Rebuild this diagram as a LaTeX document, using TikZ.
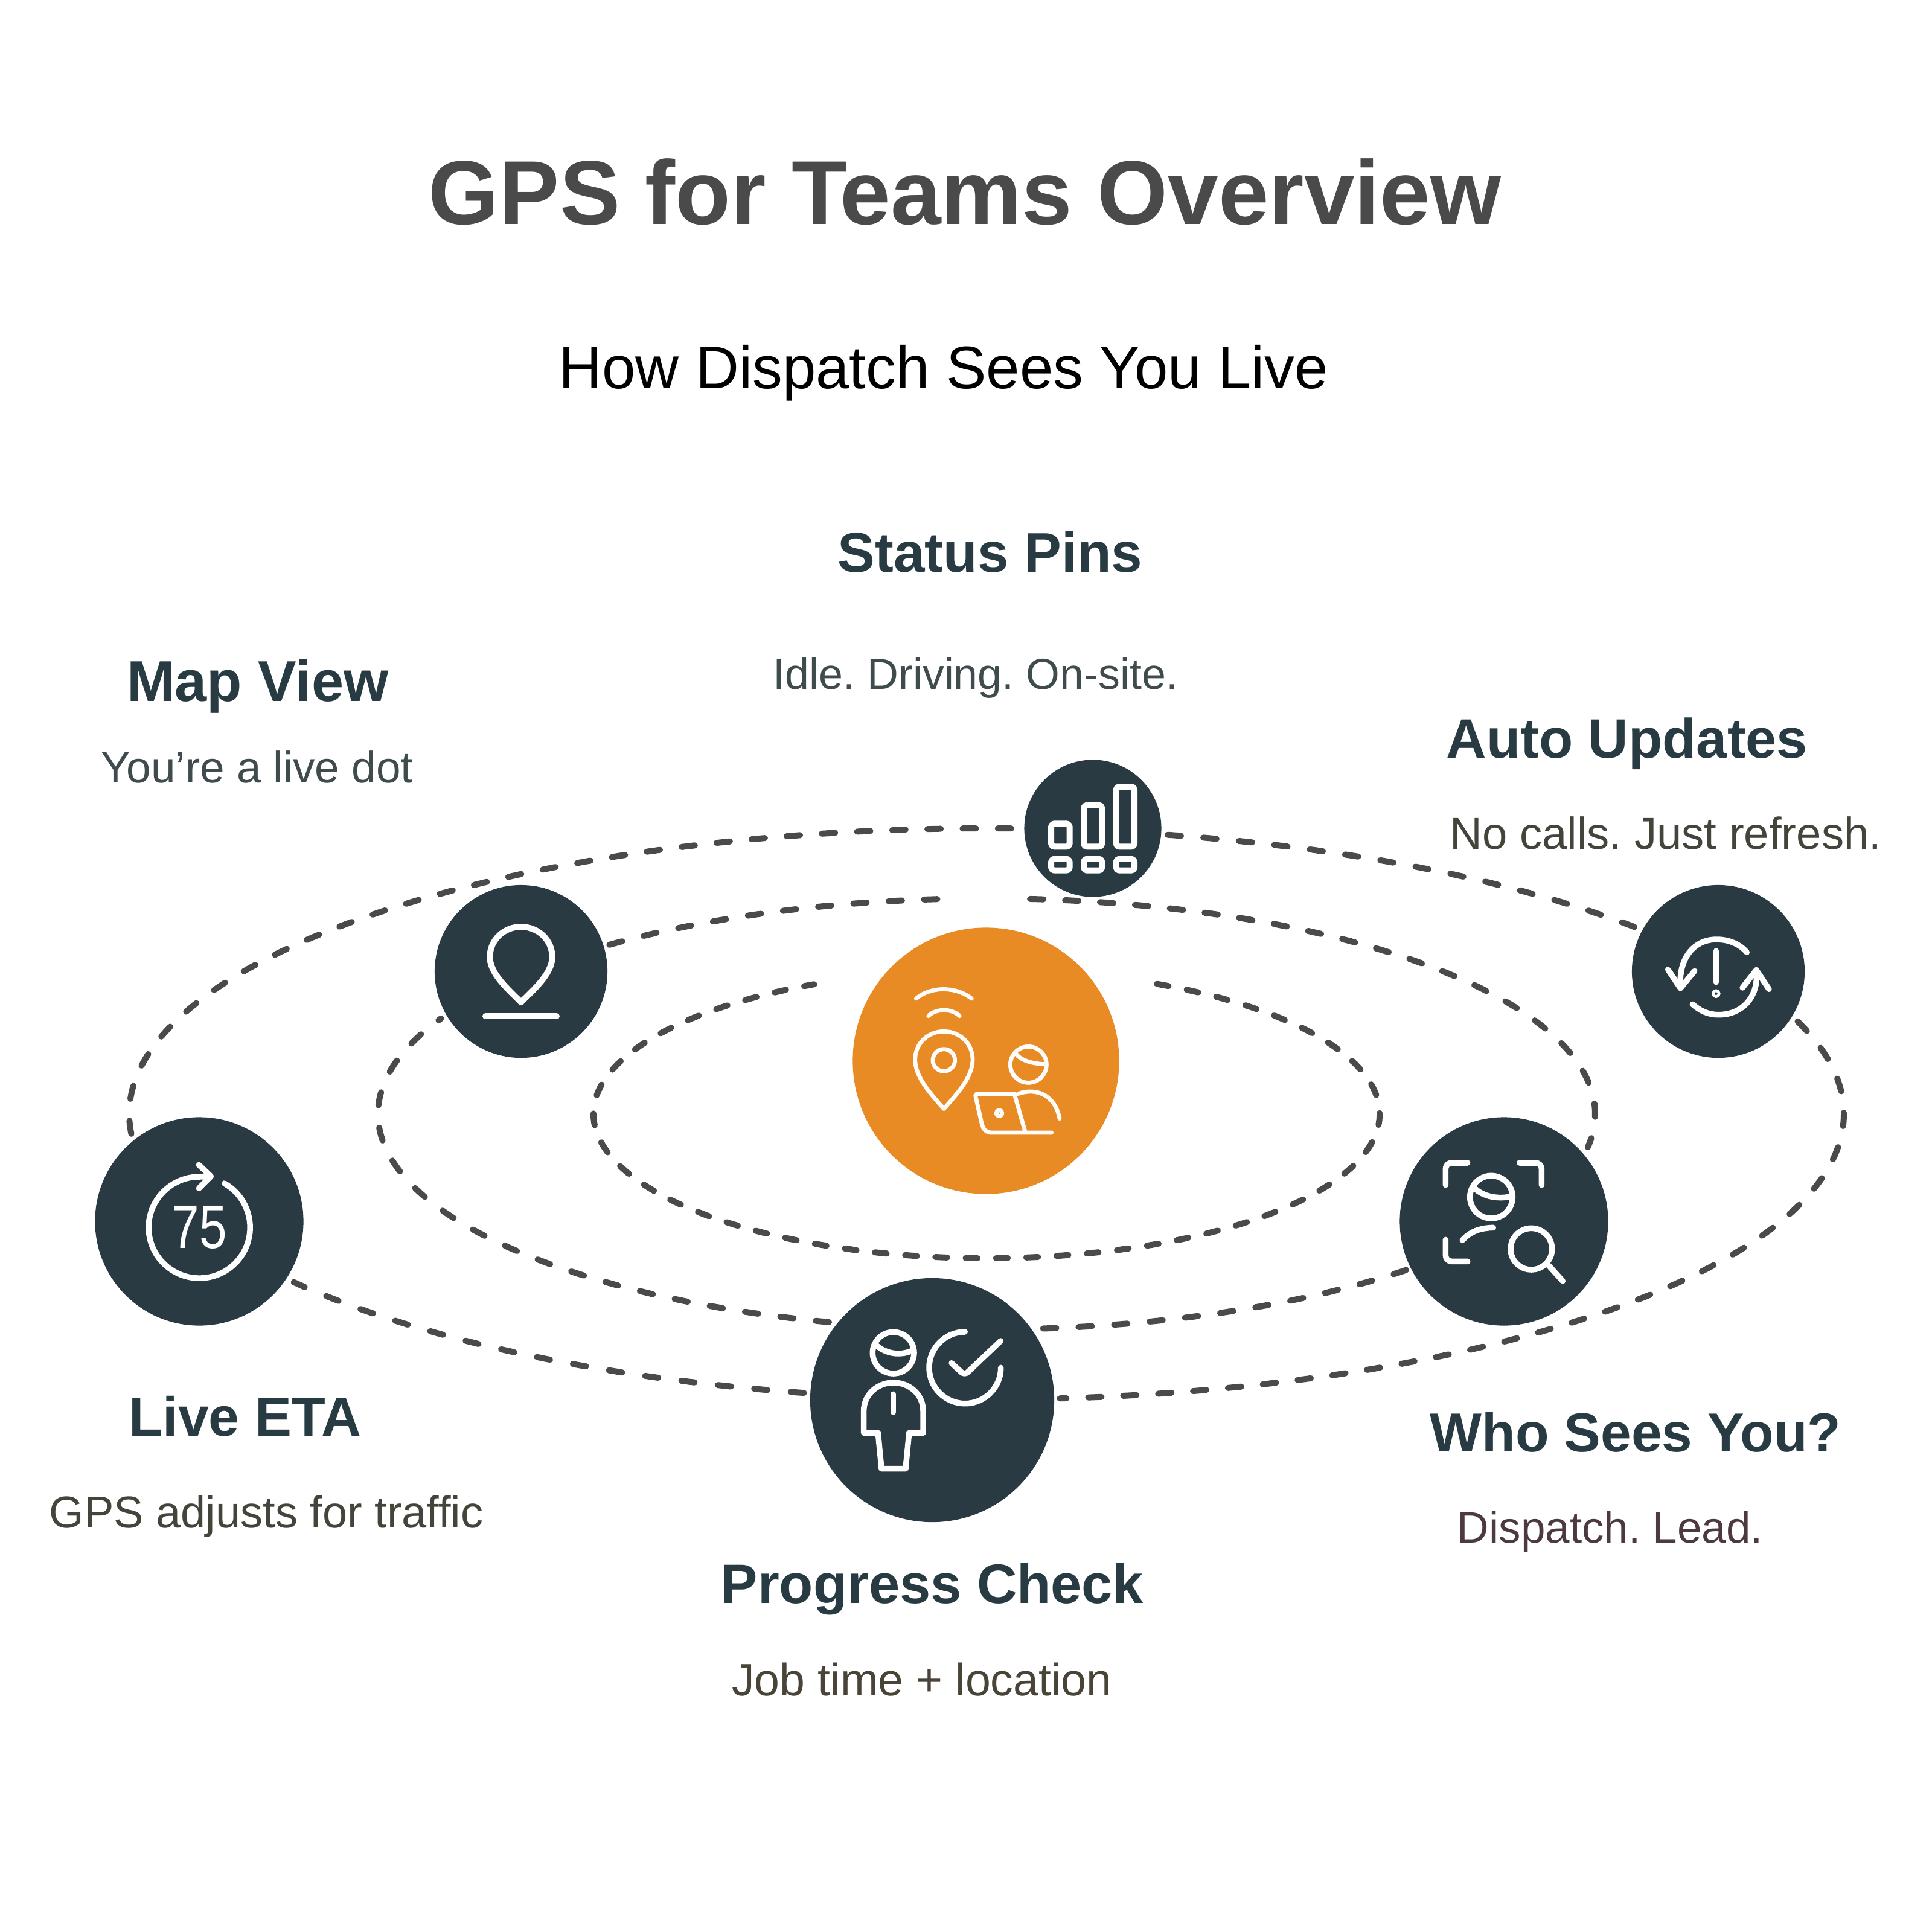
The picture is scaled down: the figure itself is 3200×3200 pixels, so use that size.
\documentclass[tikz,border=0pt]{standalone}
\usepackage{fontspec}
\usepackage{graphicx}
\usetikzlibrary{calc}
\setmainfont{Liberation Sans}
\frenchspacing
\definecolor{navy}{HTML}{293A42}
\definecolor{amber}{HTML}{E88B24}
\definecolor{dashgrey}{HTML}{4A4A4A}
\definecolor{titlegrey}{HTML}{4A4A4A}
\definecolor{headc}{HTML}{283A42}
\definecolor{subA}{HTML}{3F4B4D}
\definecolor{subB}{HTML}{44443A}
\definecolor{subC}{HTML}{4D3A40}
\definecolor{subD}{HTML}{4A4338}
\tikzset{
  x=0.01cm,y=-0.01cm,
  orbit/.style={draw=dashgrey,line width=1mm,line cap=round,dash pattern=on 2.2mm off #1mm},
  orbit/.default=3.6,
  orbitinner/.style={draw=dashgrey,line width=1mm,line cap=round,dash pattern=on 1.95mm off 3.07mm},
  hub/.style={circle,fill=navy,inner sep=0pt},
  hubamber/.style={circle,fill=amber,inner sep=0pt},
  ico/.style={draw=white,line width=0.95mm,line cap=round,line join=round},
  icothin/.style={draw=white!98!amber,line width=0.68mm,line cap=round,line join=round},
  lbl/.style={anchor=base,inner sep=0pt,outer sep=0pt},
  zoomed/.style={x=0.01cm/3,y=-0.01cm/3},
}
\newcommand{\fitb}[2]{\resizebox{#1}{!}{\bfseries #2}}
\newcommand{\fitr}[2]{\resizebox{#1}{!}{#2}}
\begin{document}
\begin{tikzpicture}
\useasboundingbox[fill=white] (0,0) rectangle (3200,3200);
\coordinate (mid) at (1634,1845);
% orbit end points
\coordinate (o1) at ($(mid)+(-77.8:1420 and 473)$);
\coordinate (o2) at ($(mid)+(-18.9:1420 and 473)$);
\coordinate (o3) at ($(mid)+(102.3:1420 and 473)$);
\coordinate (o4) at ($(mid)+(176:1420 and 473)$);
\coordinate (m1) at ($(mid)+(231.7:1008 and 357)$);
\coordinate (m2) at ($(mid)+(274.1:1008 and 357)$);
\coordinate (m3) at ($(mid)+(46.4:1008 and 357)$);
\coordinate (m4) at ($(mid)+(105:1008 and 357)$);
\coordinate (i1) at ($(mid)+(-64.3:651 and 239)$);
\draw[orbit=3.71] (o1) arc[start angle=-77.8,end angle=-40.6,x radius=1420,y radius=473];
\draw[orbit] (o2) arc[start angle=-18.9,end angle=85.1,x radius=1420,y radius=473];
\draw[orbit=3.86] (o3) arc[start angle=102.3,end angle=143.9,x radius=1420,y radius=473];
\draw[orbit=3.63] (o4) arc[start angle=176,end angle=272,x radius=1420,y radius=473];
\draw[orbit=3.66] (m1) arc[start angle=231.7,end angle=265.6,x radius=1008,y radius=357];
\draw[orbit] (m2) arc[start angle=274.1,end angle=368.9,x radius=1008,y radius=357];
\draw[orbit=3.69] (m3) arc[start angle=46.4,end angle=85,x radius=1008,y radius=357];
\draw[orbit=3.71] (m4) arc[start angle=105,end angle=206.3,x radius=1008,y radius=357];
\draw[orbitinner] (i1) arc[start angle=-64.3,end angle=244,x radius=651,y radius=239];
% hubs
\node[hubamber,minimum size=4.41cm] (core) at (1633,1757) {};
\node[hub,minimum size=2.27cm] (status) at (1810,1372) {};
\node[hub,minimum size=2.86cm] (map) at (863,1609) {};
\node[hub,minimum size=2.86cm] (auto) at (2846,1609) {};
\node[hub,minimum size=3.45cm] (who) at (2491,2023) {};
\node[hub,minimum size=3.45cm] (eta) at (330,2023) {};
\node[hub,minimum size=4.04cm] (progress) at (1544,2319) {};
% core icon
\begin{scope}[shift={(1400,1520)},zoomed]
\draw[icothin] (352,402) .. controls (425,340) and (550,340) .. (628,402);
\draw[icothin] (413,488) .. controls (450,450) and (530,450) .. (568,488);
\draw[icothin] (490,950) .. controls (420,870) and (347,790) .. (347,705) .. controls (347,625) and (410,565) .. (490,565) .. controls (570,565) and (633,625) .. (633,705) .. controls (633,790) and (560,870) .. (490,950) -- cycle;
\draw[icothin] (490,708) circle[radius=55];
\draw[icothin] (910,730) circle[radius=90];
\draw[icothin] (845,672) .. controls (870,710) and (930,725) .. (990,728);
\draw[icothin] (858,875) .. controls (960,840) and (1045,890) .. (1065,998);
\draw[icothin] (1025,1068) -- (725,1068) .. controls (700,1068) and (685,1050) .. (680,1030) -- (648,890) .. controls (645,880) and (650,875) .. (660,875) -- (840,875) -- (893,1060);
\draw[icothin] (765,971) circle[radius=15];
\end{scope}
% status icon
\begin{scope}[shift={(1680,1240)},zoomed]
\foreach \xa/\xb/\ya in {183/275/373,345/436/281,506/597/189}{
  \draw[ico,line width=1mm,rounded corners=0.5mm] (\xa,\ya) rectangle (\xb,487);
  \draw[ico,line width=1mm,rounded corners=0.5mm] (\xa,548) rectangle (\xb,605);
}
\end{scope}
% map icon
\begin{scope}[shift={(700,1450)},zoomed]
\draw[ico,line width=1mm] (489,630) .. controls (430,570) and (334,490) .. (334,405) .. controls (334,320) and (405,255) .. (489,255) .. controls (573,255) and (644,320) .. (644,405) .. controls (644,490) and (548,570) .. (489,630) -- cycle;
\draw[ico,line width=1mm] (312,699) -- (666,699);
\end{scope}
% auto icon
\begin{scope}[shift={(2690,1450)},zoomed]
\draw[ico] (610,382) .. controls (570,335) and (510,318) .. (460,318) .. controls (340,318) and (270,420) .. (280,555);
\draw[ico] (218,468) -- (280,560) -- (350,475);
\draw[ico] (340,640) .. controls (380,675) and (420,692) .. (470,692) .. controls (590,692) and (670,600) .. (657,475);
\draw[ico] (588,558) -- (657,470) -- (720,565);
\draw[ico] (457,375) -- (457,530);
\draw[ico,line width=0.47mm] (457,587) circle[radius=15];
\end{scope}
% who icon
\begin{scope}[shift={(2300,1840)},zoomed]
\draw[ico,rounded corners=1mm] (283,368) -- (283,258) -- (392,258);
\draw[ico,rounded corners=1mm] (650,258) -- (760,258) -- (760,368);
\draw[ico,rounded corners=1mm] (283,640) -- (283,748) -- (392,748);
\draw[ico] (510,428) circle[radius=106];
\draw[ico] (428,385) .. controls (470,425) and (540,440) .. (610,425);
\draw[ico] (367,642) .. controls (410,595) and (460,582) .. (520,580);
\draw[ico] (709,686) circle[radius=103];
\draw[ico] (795,768) -- (865,845);
\end{scope}
% eta icon
\begin{scope}[shift={(140,1840)},zoomed]
\draw[ico] (695,360) arc[start angle=-60.4,end angle=270,radius=252] -- (628,325);
\draw[ico] (568,268) -- (628,325) -- (568,385);
\node[lbl,white] (etanum) at (571,683) {\resizebox{0.91cm}{0.7cm}{75}};
\end{scope}
% progress icon
\begin{scope}[shift={(1330,2110)},zoomed]
\draw[ico] (449,392) circle[radius=103];
\draw[ico] (365,355) .. controls (410,395) and (480,410) .. (545,380);
\draw[ico] (302,790) -- (302,680) .. controls (302,600) and (370,540) .. (449,540) .. controls (530,540) and (597,600) .. (597,680) -- (597,790) -- (527,790) -- (510,968) -- (390,968) -- (373,790) -- cycle;
\draw[ico] (449,598) -- (449,687);
\draw[ico] (805,288) arc[start angle=270,end angle=0,radius=178];
\draw[ico,rounded corners=0.7mm] (738,443) -- (803,503) -- (982,333);
\end{scope}
% texts
\node[lbl,text=titlegrey] (title) at (1598,371) {\fitb{17.75cm}{GPS for Teams Overview}};
\node[lbl,text=black] (subtitle) at (1563,643) {\fitr{12.74cm}{How Dispatch Sees You Live}};
\node[lbl,text=headc] (h1) at (1640,947) {\fitb{5.04cm}{Status Pins}};
\node[lbl,text=subA] (t1) at (1616,1141) {\fitr{6.7cm}{Idle. Driving. On-site.}};
\node[lbl,text=headc] (h2) at (427,1161) {\fitb{4.33cm}{Map View}};
\node[lbl,text=subA] (t2) at (426,1296) {\fitr{5.16cm}{You’re a live dot}};
\node[lbl,text=headc] (h3) at (2695,1255) {\fitb{5.98cm}{Auto Updates}};
\node[lbl,text=subB] (t3) at (2759,1406) {\fitr{7.14cm}{No calls. Just refresh.}};
\node[lbl,text=headc] (h4) at (406,2378) {\fitb{3.84cm}{Live ETA}};
\node[lbl,text=subB] (t4) at (441,2530) {\fitr{7.18cm}{GPS adjusts for traffic}};
\node[lbl,text=headc] (h5) at (2709,2404) {\fitb{6.8cm}{Who Sees You?}};
\node[lbl,text=subC] (t5) at (2667,2555) {\fitr{5.06cm}{Dispatch. Lead.}};
\node[lbl,text=headc] (h6) at (1544,2655) {\fitb{7cm}{Progress Check}};
\node[lbl,text=subD] (t6) at (1527,2808) {\fitr{6.29cm}{Job time + location}};
\end{tikzpicture}
\end{document}
